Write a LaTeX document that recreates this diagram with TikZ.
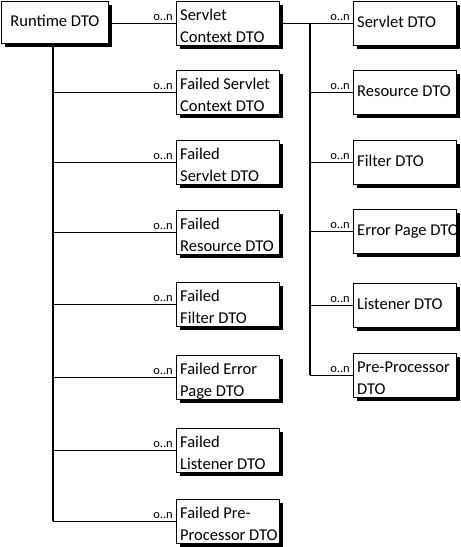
\documentclass[tikz,border=0pt]{standalone}
\usepackage{fontspec}
\setmainfont{Carlito}
\usetikzlibrary{shadows}
\newcommand\dtoOne[4]{%
  \node[dto] (#1) at (#2,#3) {};
  \node[txt] (#1-a) at ([shift={(4,26)}]#1.north west) {#4};}
\newcommand\dtoTwo[5]{%
  \node[dto] (#1) at (#2,#3) {};
  \node[txt] (#1-a) at ([shift={(4,19)}]#1.north west) {#4};
  \node[txt] (#1-b) at ([shift={(4,41)}]#1.north west) {#5};}
\begin{document}
\begin{tikzpicture}[x=1pt,y=-1pt,
  dto/.style={draw=black, line width=0.8pt, fill=white, anchor=north west,
    minimum width=103pt, minimum height=44pt, inner sep=0pt,
    drop shadow={shadow xshift=4pt, shadow yshift=-4pt, shadow scale=1, fill=black, opacity=1}},
  txt/.style={anchor=base west, inner sep=0pt, font=\fontsize{16.5}{20}\selectfont},
  mult/.style={anchor=base east, inner sep=0pt, font=\fontsize{12.5}{13}\selectfont},
  trunk/.style={line width=1.6pt},
  branch/.style={line width=0.8pt}]
\useasboundingbox (0,0) rectangle (461,547);
% root
\node[dto, minimum width=107pt, minimum height=42pt] (rt) at (1,1) {};
\node[txt, anchor=base] (rt-a) at ([shift={(0,25.5)}]rt.north) {Runtime DTO};
% left column
\dtoTwo{sc}{176}{1}{Servlet}{Context DTO}
\dtoTwo{fsc}{176}{70}{Failed Servlet}{Context DTO}
\dtoTwo{fs}{176}{140}{Failed}{Servlet DTO}
\dtoTwo{fr}{176}{210}{Failed}{Resource DTO}
\dtoTwo{ff}{176}{282}{Failed}{Filter DTO}
\dtoTwo{fe}{176}{355}{Failed Error}{Page DTO}
\dtoTwo{fl}{176}{428}{Failed}{Listener DTO}
\dtoTwo{fp}{176}{499}{Failed Pre-}{Processor DTO}
% right column
\dtoOne{s}{353}{1}{Servlet DTO}
\dtoOne{r}{353}{70}{Resource DTO}
\dtoOne{f}{353}{140}{Filter DTO}
\dtoOne{e}{353}{209}{Error Page DTO}
\dtoOne{l}{353}{283}{Listener DTO}
\dtoTwo{p}{353}{353}{Pre-Processor}{DTO}
% trunks
\coordinate (lt) at (53,0);
\coordinate (rtk) at (310,0);
\draw[trunk] (rt.south -| lt) -- (lt |- fp.west);
\draw[trunk] (sc.east) -- (rtk |- sc.east) -- (rtk |- p.west);
% branches
\draw[branch] (rt.east |- sc.west) -- (sc.west);
\foreach \n in {fsc,fs,fr,ff,fe,fl,fp} {
  \draw[branch] (lt |- \n.west) -- (\n.west);
}
\foreach \n in {s,r,f,e,l,p} {
  \draw[branch] (rtk |- \n.west) -- (\n.west);
}
% multiplicities
\foreach \n in {sc,fsc,fs,fr,ff,fe,fl,fp,s,r,f,e,l,p} {
  \node[mult] (m\n) at ([shift={(-3,-2.5)}]\n.west) {o..n};
}
\end{tikzpicture}
\end{document}
